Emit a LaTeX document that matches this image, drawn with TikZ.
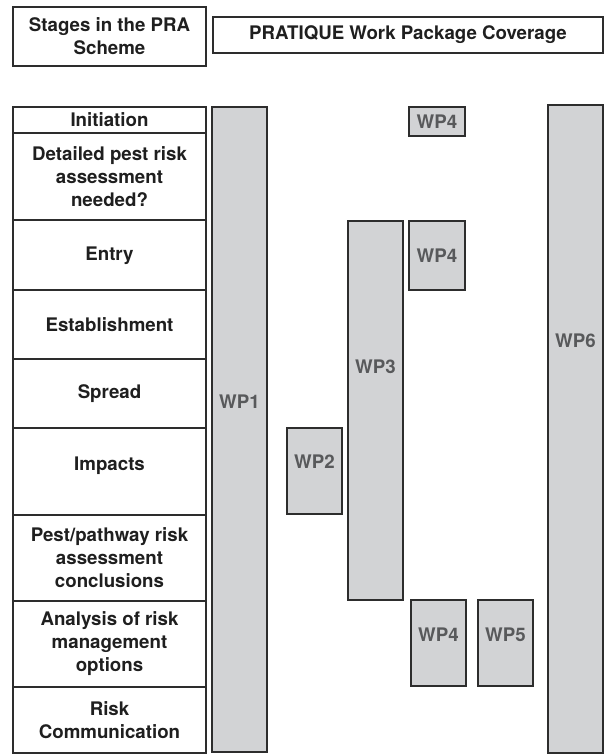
\documentclass[tikz,border=0pt]{standalone}
\usepackage{fontspec}
\setmainfont{TeX Gyre Heros}
\definecolor{wpgrey}{RGB}{210,211,213}
\definecolor{wptext}{RGB}{88,89,91}
\definecolor{edge}{RGB}{45,45,45}

\begin{document}
\begin{tikzpicture}[x=1pt,y=-1pt,
	stage/.style={draw=edge,line width=1.3pt},
	wp/.style={draw=edge,line width=1.3pt,fill=wpgrey},
	wplabel/.style={text=wptext},
	every node/.style={font=\fontsize{18.7}{23}\selectfont\bfseries,align=center,text=black!88}]
	\useasboundingbox (0,0) rectangle (604,755);
	% headings
	\draw[stage] (13,7) rectangle node (hstages) {Stages in the PRA\\Scheme} (206,66);
	\draw[stage] (213,17) rectangle node (hcover) {PRATIQUE Work Package Coverage} (603,53);
	% stages of the scheme
	\draw[stage] (13,107) rectangle node (init) {Initiation} (206,133);
	\draw[stage] (13,133) rectangle node (needed) {Detailed pest risk\\assessment\\needed?} (206,220);
	\draw[stage] (13,220) rectangle node[yshift=-1pt] (entry) {Entry} (206,290);
	\draw[stage] (13,290) rectangle node (estab) {Establishment} (206,359);
	\draw[stage] (13,359) rectangle node (spread) {Spread} (206,428);
	\draw[stage] (13,428) rectangle node[yshift=6pt] (impacts) {Impacts} (206,515);
	\draw[stage] (13,515) rectangle node (concl) {Pest/pathway risk\\assessment\\conclusions} (206,601);
	\draw[stage] (13,601) rectangle node (options) {Analysis of risk\\management\\options} (206,687);
	\draw[stage] (13,687) rectangle node (comm) {Risk\\Communication} (206,753);
	% work packages
	\draw[wp] (212,107) rectangle node[wplabel,yshift=28pt] (wp1) {WP1} (267,752);
	\draw[wp] (287,428) rectangle node[wplabel,yshift=9pt] (wp2) {WP2} (342,514);
	\draw[wp] (348,221) rectangle node[wplabel,yshift=44pt] (wp3) {WP3} (403,600);
	\draw[wp] (409,107) rectangle node[wplabel] (wp4a) {WP4} (465,136);
	\draw[wp] (409,221) rectangle node[wplabel] (wp4b) {WP4} (465,290);
	\draw[wp] (411,600) rectangle node[wplabel,yshift=8pt] (wp4c) {WP4} (466,686);
	\draw[wp] (478,600) rectangle node[wplabel,yshift=8pt] (wp5) {WP5} (533,686);
	\draw[wp] (548,105) rectangle node[wplabel,yshift=88pt] (wp6) {WP6} (603,753);
\end{tikzpicture}
\end{document}
